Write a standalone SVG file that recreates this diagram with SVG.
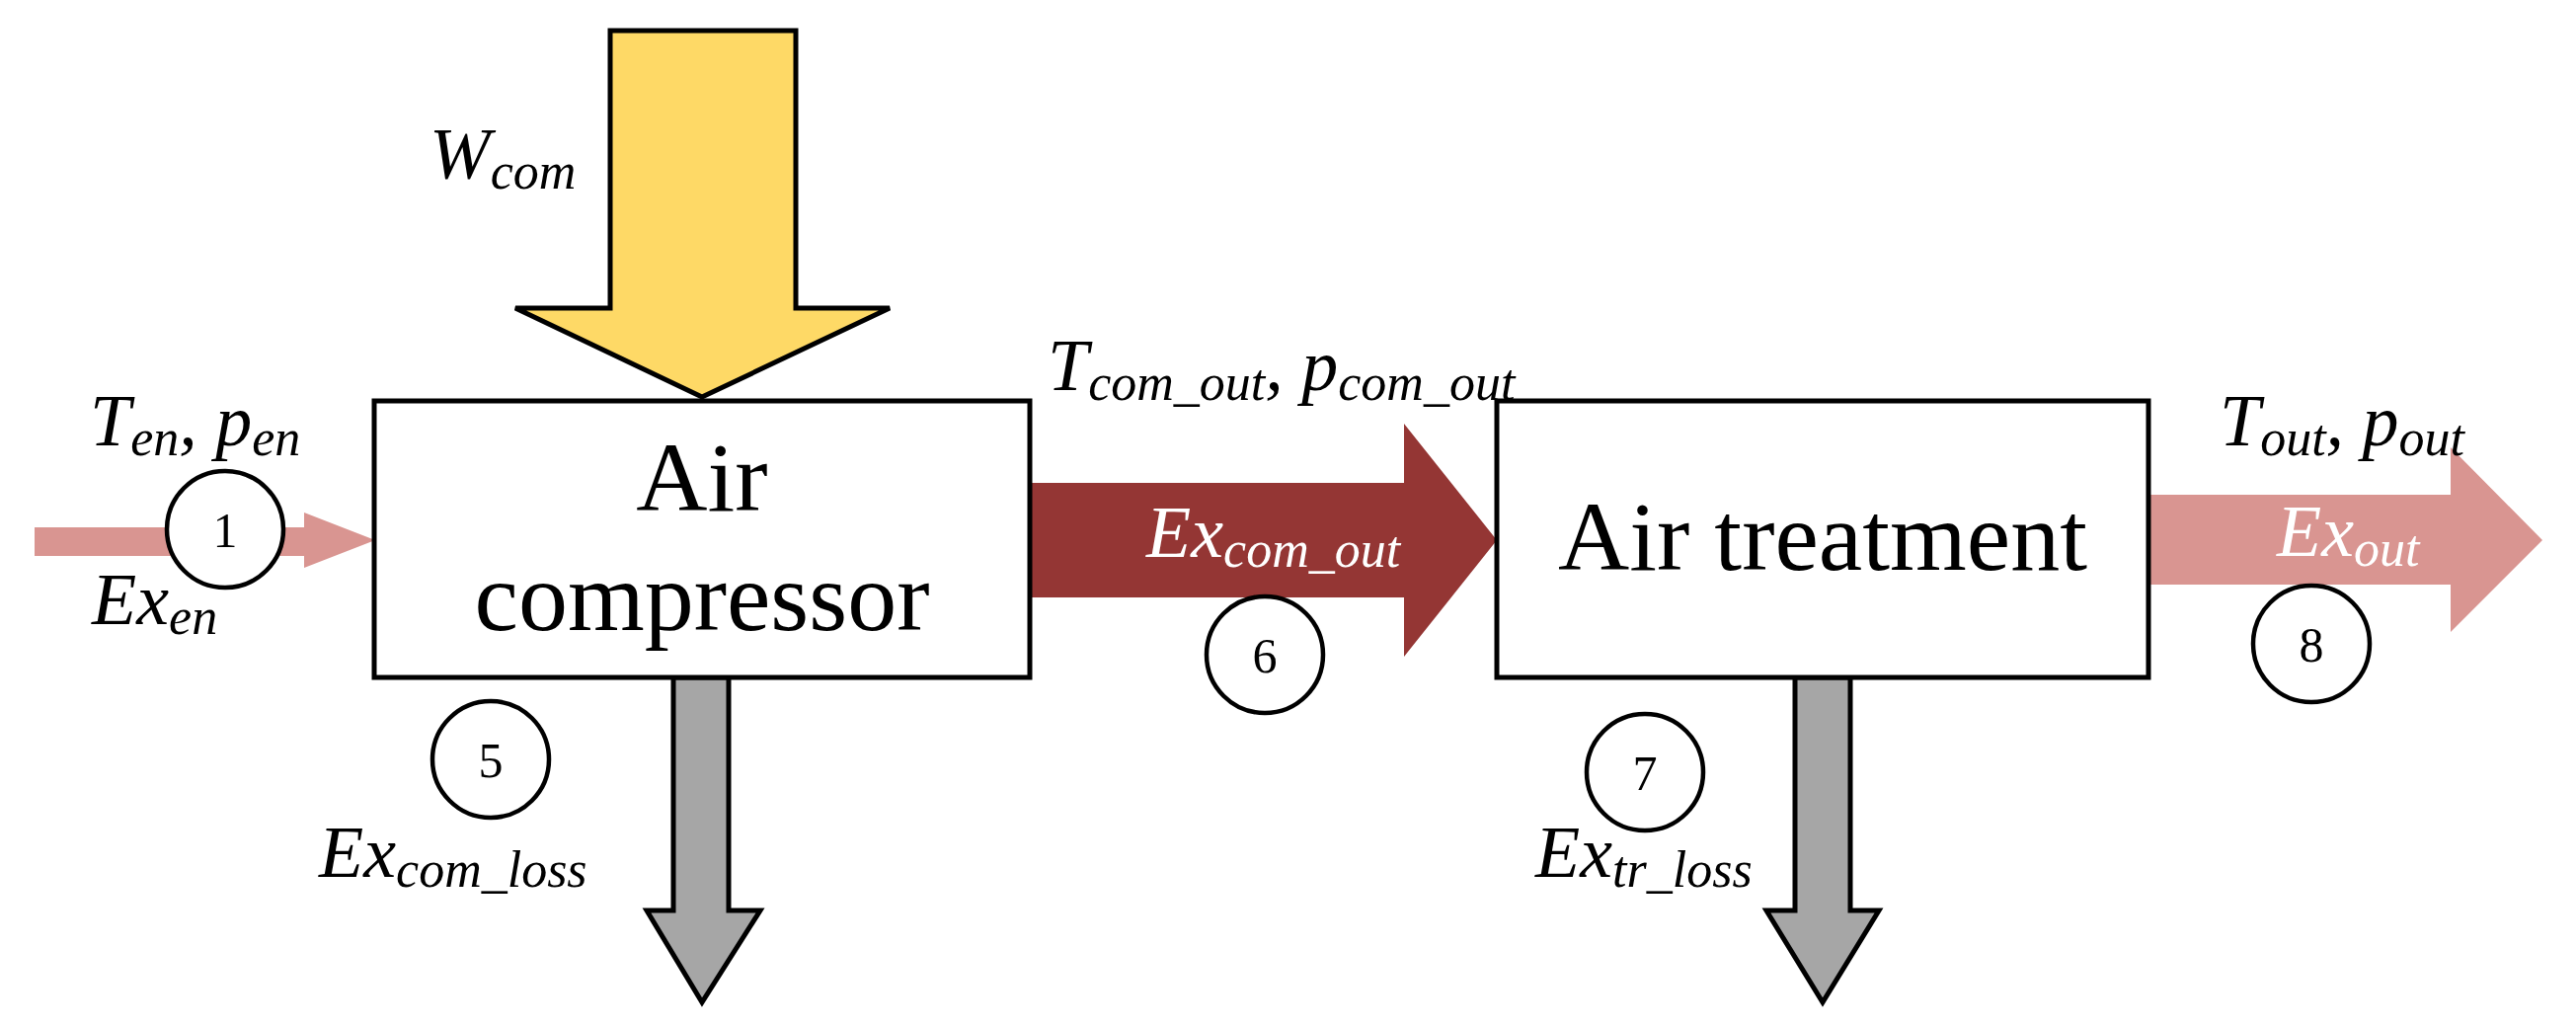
<svg xmlns="http://www.w3.org/2000/svg" width="2609" height="1040" viewBox="0 0 2609 1040">
<style>
.box{fill:#fff;stroke:#000;stroke-width:5}
.lbl{font-family:"Liberation Serif",serif;font-style:italic;font-size:74px;fill:#000}
.sub{font-size:52px}
.w{fill:#fff}
.big{font-family:"Liberation Serif",serif;font-size:100px;fill:#000;text-anchor:middle}
.num{font-family:"Liberation Serif",serif;font-size:50px;fill:#000;text-anchor:middle}
.circ{fill:#fff;stroke:#000;stroke-width:4.5}
</style>
<rect width="2609" height="1040" fill="#fff"/>
<g id="connectors">
<polygon points="35,534 308,534 308,519 380,547 308,575 308,563 35,563" fill="#d99591"/>
<polygon points="618,31 806,31 806,312 901,312 711,402 522,312 618,312" fill="#fed966" stroke="#000" stroke-width="5"/>
<polygon points="1043,489 1422,489 1422,429 1516,547 1422,665 1422,605 1043,605" fill="#943634"/>
<polygon points="2176,501 2482,501 2482,453 2575,547 2482,640 2482,592 2176,592" fill="#d99591"/>
<polygon points="682,686 738,686 738,922 770,922 711,1015 655,922 682,922" fill="#a6a6a6" stroke="#000" stroke-width="5"/>
<polygon points="1818,686 1874,686 1874,922 1903,922 1846,1015 1789,922 1818,922" fill="#a6a6a6" stroke="#000" stroke-width="5"/>
</g>
<g id="compressor"><rect class="box" x="379" y="406" width="664" height="280"/>
<text class="big" x="711" y="517">Air</text><text class="big" x="711" y="638">compressor</text></g>
<g id="treatment"><rect class="box" x="1516" y="406" width="660" height="280"/>
<text class="big" x="1846" y="577">Air treatment</text></g>
<g id="c1"><ellipse class="circ" cx="228" cy="536" rx="59" ry="59"/><text class="num" x="228" y="554">1</text></g>
<g id="c5"><ellipse class="circ" cx="497" cy="769" rx="59" ry="59"/><text class="num" x="497" y="787">5</text></g>
<g id="c6"><ellipse class="circ" cx="1281" cy="663" rx="59" ry="59"/><text class="num" x="1281" y="681">6</text></g>
<g id="c7"><ellipse class="circ" cx="1666" cy="782" rx="59" ry="59"/><text class="num" x="1666" y="800">7</text></g>
<g id="c8"><ellipse class="circ" cx="2341" cy="652" rx="59" ry="59"/><text class="num" x="2341" y="670">8</text></g>
<g id="labels">
<text class="lbl" x="91" y="451">T<tspan class="sub" dy="10">en</tspan><tspan dy="-10">, p</tspan><tspan class="sub" dy="10">en</tspan></text>
<text class="lbl" x="93" y="632">Ex<tspan class="sub" dy="10">en</tspan></text>
<text class="lbl" x="435" y="181">W<tspan class="sub" dy="10">com</tspan></text>
<text class="lbl" x="1061" y="395">T<tspan class="sub" dy="10">com_out</tspan><tspan dy="-10">, p</tspan><tspan class="sub" dy="10">com_out</tspan></text>
<text class="lbl w" x="1161" y="564">Ex<tspan class="sub" dy="10">com_out</tspan></text>
<text class="lbl" x="323" y="888">Ex<tspan class="sub" dy="10">com_loss</tspan></text>
<text class="lbl" x="1555" y="888">Ex<tspan class="sub" dy="10">tr_loss</tspan></text>
<text class="lbl" x="2248" y="451">T<tspan class="sub" dy="10">out</tspan><tspan dy="-10">, p</tspan><tspan class="sub" dy="10">out</tspan></text>
<text class="lbl w" x="2306" y="563">Ex<tspan class="sub" dy="10">out</tspan></text>
</g>
</svg>
